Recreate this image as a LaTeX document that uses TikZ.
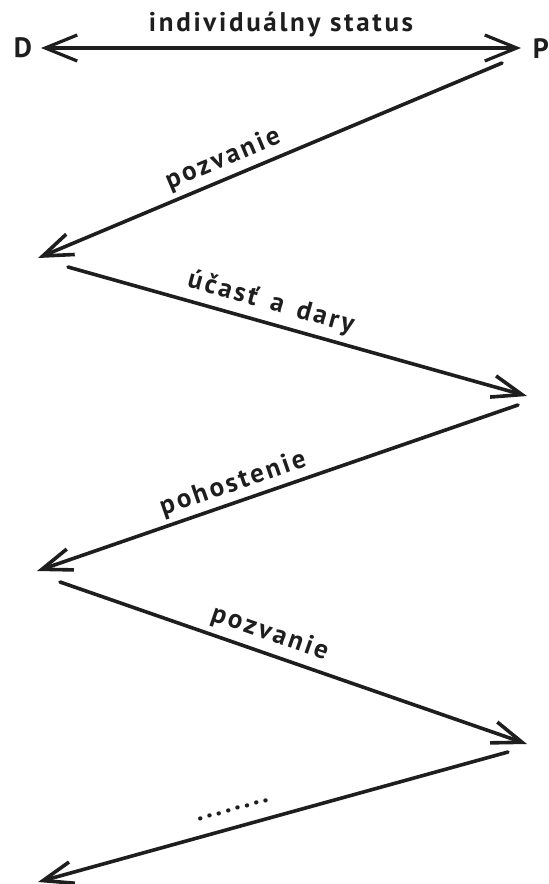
\documentclass[tikz,border=0pt]{standalone}
\usepackage{fontspec}
\setmainfont{PT Sans}
\newfontfamily\lab{PT Sans}[LetterSpace=10]
\usetikzlibrary{arrows.meta}
\definecolor{ink}{RGB}{30,30,30}
\tikzset{
  conn/.style={draw=ink, line width=3.6pt, line cap=round, -{Straight Barb[length=30pt,width=22pt]}},
  topconn/.style={draw=ink, line width=3.2pt, {Straight Barb[length=32pt,width=26pt]}-{Straight Barb[length=32pt,width=26pt]}},
  lbl/.style={font=\lab\bfseries\fontsize{27}{27}\selectfont, text=ink, inner sep=0pt},
  endlbl/.style={font=\lab\bfseries\fontsize{28}{28}\selectfont, text=ink, inner sep=0pt},
}
\begin{document}
\begin{tikzpicture}[x=1pt,y=-1pt]
\useasboundingbox (0,0) rectangle (549,884);
\node[endlbl] (D) at (23,48) {D};
\node[endlbl] (P) at (541,49) {P};
\coordinate (t1) at (41,48);
\coordinate (t2) at (521,48);
\draw[topconn] (t1) -- node[lbl, above=9pt] (l0) {individuálny status} (t2);
\coordinate (s1) at (502,63);
\coordinate (e1) at (38,258);
\draw[conn] (s1) -- node[lbl, sloped, above=5pt, pos=0.585] (l1) {pozvanie} (e1);
\coordinate (s2) at (68,267);
\coordinate (e2) at (527,396);
\draw[conn] (s2) -- node[lbl, sloped, above=6pt, pos=0.43] (l2) {účasť\, a\, dary} (e2);
\coordinate (s3) at (518,405);
\coordinate (e3) at (37,571);
\draw[conn] (s3) -- node[lbl, sloped, above=4pt, pos=0.58] (l3) {pohostenie} (e3);
\coordinate (s4) at (60,582);
\coordinate (e4) at (527,744);
\draw[conn] (s4) -- node[lbl, sloped, above=6pt, pos=0.435] (l4) {pozvanie} (e4);
\coordinate (s5) at (508,752);
\coordinate (e5) at (38,882);
\draw[conn] (s5) -- node[lbl, sloped, above=14pt, pos=0.575] (l5) {........} (e5);
\end{tikzpicture}
\end{document}
